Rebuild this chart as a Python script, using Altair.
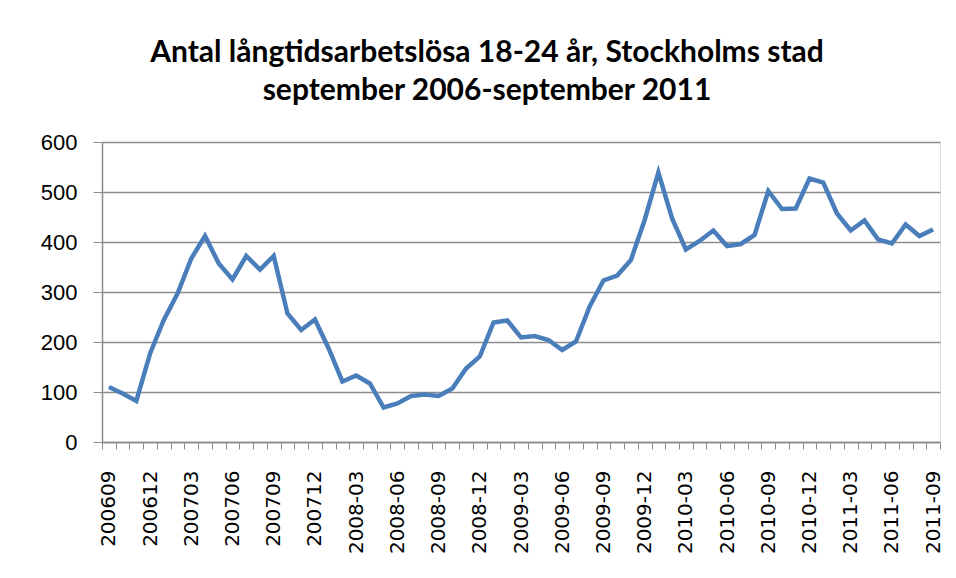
import json
import altair as alt
import pandas as pd

categories = [
    "200609", "200610", "200611", "200612", "200701", "200702", "200703", "200704",
    "200705", "200706", "200707", "200708", "200709", "200710", "200711", "200712",
    "2008-01", "2008-02", "2008-03", "2008-04", "2008-05", "2008-06", "2008-07", "2008-08",
    "2008-09", "2008-10", "2008-11", "2008-12", "2009-01", "2009-02", "2009-03", "2009-04",
    "2009-05", "2009-06", "2009-07", "2009-08", "2009-09", "2009-10", "2009-11", "2009-12",
    "2010-01", "2010-02", "2010-03", "2010-04", "2010-05", "2010-06", "2010-07", "2010-08",
    "2010-09", "2010-10", "2010-11", "2010-12", "2011-01", "2011-02", "2011-03", "2011-04",
    "2011-05", "2011-06", "2011-07", "2011-08", "2011-09",
]

values = [
    110, 97, 82, 177, 244, 297, 367, 412, 357, 325, 372, 345, 372, 257, 224, 245,
    187, 121, 133, 117, 69, 77, 92, 95, 92, 107, 147, 171, 239, 243, 209, 212,
    204, 184, 201, 271, 323, 333, 364, 444, 539, 447, 385, 402, 423, 392, 396, 414,
    502, 466, 467, 527, 519, 457, 423, 443, 405, 397, 435, 412, 425,
]

shown_labels = [
    "200609", "200612", "200703", "200706", "200709", "200712", "2008-03", "2008-06",
    "2008-09", "2008-12", "2009-03", "2009-06", "2009-09", "2009-12", "2010-03", "2010-06",
    "2010-09", "2010-12", "2011-03", "2011-06", "2011-09",
]

y_ticks = [0, 100, 200, 300, 400, 500, 600]

title_lines = [
    "Antal långtidsarbetslösa 18-24 år, Stockholms stad",
    "september 2006-september 2011",
]

df = pd.DataFrame({"month": categories, "value": values})

label_expr = (
    "indexof(" + json.dumps(shown_labels).replace('"', "'") + ", datum.value) >= 0 ? datum.value : ''"
)

grey = "#8c8c8c"

chart = (
    alt.Chart(df)
    .mark_line(color="#4a7ebb", strokeWidth=4.5, strokeJoin="miter")
    .encode(
        x=alt.X(
            "month:N",
            sort=categories,
            scale=alt.Scale(paddingInner=0, paddingOuter=0),
            axis=alt.Axis(
                title=None,
                labelExpr=label_expr,
                labelAngle=270,
                labelOverlap=False,
                labelFont="DejaVu Sans",
                labelFontSize=20,
                labelColor="#000000",
                labelPadding=21,
                tickBand="extent",
                tickSize=7,
                tickColor=grey,
                domainColor=grey,
                domainWidth=1.5,
                grid=False,
            ),
        ),
        y=alt.Y(
            "value:Q",
            scale=alt.Scale(domain=[0, 600], nice=False),
            axis=alt.Axis(
                title=None,
                values=y_ticks,
                labelFont="Liberation Sans",
                labelFontSize=22,
                labelColor="#000000",
                labelPadding=16,
                tickSize=9,
                tickColor=grey,
                domainColor=grey,
                domainWidth=1.5,
                gridColor=grey,
                gridWidth=1.5,
            ),
        ),
    )
    .properties(
        width=838,
        height=300,
        title=alt.TitleParams(
            text=title_lines,
            font="Lato",
            fontSize=30,
            fontWeight="bold",
            color="#000000",
            anchor="middle",
            dx=-34,
            lineHeight=38,
            offset=25,
        ),
        autosize=alt.AutoSizeParams(type="none"),
        padding={"left": 94, "top": 134, "right": 8, "bottom": 124},
    )
    .configure_view(stroke=None)
    .configure(background="#ffffff")
)

chart.save("out.html", embed_options={"renderer": "svg", "actions": False})
